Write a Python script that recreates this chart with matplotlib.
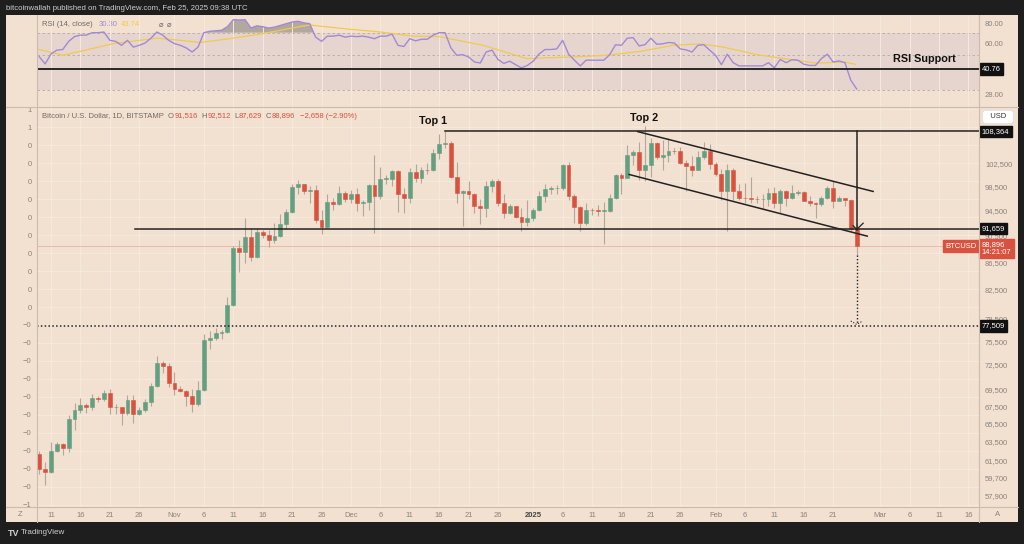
import numpy as np
import pandas as pd
import matplotlib
matplotlib.use('Agg')
from matplotlib import pyplot as plt
from matplotlib.lines import Line2D
from matplotlib.patches import Rectangle
from matplotlib.ticker import NullLocator, NullFormatter

plt.rcParams['font.family'] = ['Liberation Sans', 'DejaVu Sans']

# daily BTC/USD candles, Oct 9 2024 .. Feb 25 2025 (Bitstamp)
start_date = '2024-10-09'
opens = [62130, 60580, 60270, 62450, 63190, 62850, 66050, 67040, 67620, 67400, 68420, 68360, 69000, 67370, 67380, 66660, 68170, 66620, 67000, 67980, 69900, 72720, 72330,
         70250, 69500, 69300, 68740, 67800, 69370, 75600, 75900, 76530, 76680, 80400, 88700, 87950, 90400, 87300, 91050, 90600, 89850, 90500, 92300, 94300, 98400, 98950, 97700, 97900, 93000, 91950, 95950, 95650, 97450,
         96450, 97300, 95850, 96000, 98750, 97000, 99850, 99900, 101150, 97350, 96600, 101100, 100000, 101450, 101400, 104450, 106100, 106150, 100200, 97450, 97750, 97200, 95200, 94900, 98700, 99400, 95800, 94200, 95200, 93550, 92650,
         93400, 94550, 96900, 98150, 98250, 98350, 102250, 96950, 95050, 92500, 94700, 94550, 94500, 94500, 96550, 100500, 99980, 104080, 104560, 101330, 102260, 106150, 103650, 103960, 104800, 104700, 102600, 102050, 101300, 103700, 104700,
         102400, 100650, 97700, 101400, 97800, 96600, 96550, 96500, 96450, 96500, 97400, 95750, 97850, 96600, 97500, 97550, 96150, 95750, 95550, 96650, 98350, 96150, 96550, 96250, 91516]
highs = [62500, 61300, 63400, 63450, 63300, 66500, 67900, 68400, 67900, 68950, 68700, 69400, 69500, 67800, 67450, 68800, 68750, 67400, 68300, 70200, 73600, 72950, 72700,
         71600, 69900, 69400, 69500, 70500, 76400, 76800, 77200, 76900, 81400, 89000, 89900, 93400, 91700, 91800, 91400, 91500, 92500, 94000, 94800, 99000, 99600, 99000, 98600, 98800, 94700, 97200, 96600, 98700, 97800,
         98000, 98200, 96300, 99000, 104000, 101900, 100500, 101300, 101300, 98200, 101800, 102500, 101900, 102600, 105200, 107800, 108364, 106500, 102800, 98000, 99500, 97400, 96500, 99500, 99900, 99900, 97300, 95600, 95300, 94900, 96200,
         95000, 97800, 98900, 98700, 98800, 102500, 102700, 97300, 95300, 95800, 95000, 95400, 95900, 97300, 100700, 100800, 105800, 104900, 106300, 109350, 107200, 106400, 106800, 107100, 105300, 105500, 103200, 103800, 104800, 106400, 106000,
         102800, 101500, 102500, 101700, 99000, 99100, 100100, 96900, 97300, 98300, 98500, 98100, 98000, 98800, 97900, 97700, 97000, 96000, 96900, 98700, 99500, 96900, 96600, 96500, 92512]
lows = [60000, 58900, 60150, 62400, 62000, 62400, 64800, 66700, 66700, 67100, 68000, 68100, 66600, 66600, 65300, 66500, 65600, 66500, 66800, 67500, 69700, 71500, 69700,
        68800, 69100, 67500, 66800, 67500, 69300, 74500, 75600, 75800, 76500, 80200, 85100, 86300, 86700, 87100, 90100, 88800, 89400, 90400, 91600, 94200, 97300, 97200, 95800, 92600, 90800, 91700, 94700, 95400, 96000,
        95800, 94500, 93600, 94700, 91000, 96500, 99000, 98700, 94300, 94200, 95700, 99300, 99200, 100600, 101200, 103300, 105300, 100000, 95700, 92100, 96400, 94200, 92400, 93500, 97600, 95200, 93300, 94000, 93300, 91300, 92000,
        92800, 94400, 96000, 97300, 97300, 97900, 96200, 92500, 91200, 92200, 93800, 93700, 89250, 94300, 96500, 97300, 99950, 102300, 99600, 99500, 100100, 103400, 101300, 102800, 104200, 102500, 97800, 100300, 101300, 103400, 101600,
        100300, 96200, 91200, 96200, 96200, 95700, 95700, 95700, 94800, 95300, 94900, 94100, 95300, 96400, 97100, 96100, 95200, 93400, 95300, 96500, 94900, 96100, 95200, 91300, 87629]
closes = [60580, 60270, 62450, 63190, 62850, 66050, 67040, 67620, 67400, 68420, 68360, 69000, 67370, 67380, 66660, 68170, 66620, 67000, 67980, 69900, 72720, 72330, 70250,
          69500, 69300, 68740, 67800, 69370, 75600, 75900, 76530, 76680, 80400, 88700, 87950, 90400, 87300, 91050, 90600, 89850, 90500, 92300, 94300, 98400, 98950, 97700, 97900, 93000, 91950, 95950, 95650, 97450, 96450,
          97300, 95850, 96000, 98750, 97000, 99850, 99900, 101150, 97350, 96600, 101100, 100000, 101450, 101400, 104450, 106100, 106150, 100200, 97450, 97750, 97200, 95200, 94900, 98700, 99400, 95800, 94200, 95200, 93550, 92650, 93400,
          94550, 96900, 98150, 98250, 98350, 102250, 96950, 95050, 92500, 94700, 94550, 94500, 94500, 96550, 100500, 99980, 104080, 104560, 101330, 102260, 106150, 103650, 103960, 104800, 104700, 102600, 102050, 101300, 103700, 104700, 102400,
          100650, 97700, 101400, 97800, 96600, 96550, 96500, 96450, 96500, 97400, 95750, 97850, 96600, 97500, 97550, 96150, 95750, 95550, 96650, 98350, 96150, 96550, 96250, 91516, 88896]

# RSI(14) per candle
rsi = [49, 44, 51, 54, 54.5, 61.5, 66, 67.5, 67.5, 70, 70, 70.7, 62.5, 61.5, 58, 62.5, 56.5, 58, 60, 64.5, 70.7, 67.5, 62.5,
       59.5, 58, 55.8, 52.5, 56.5, 70, 71.5, 72, 72.5, 76.5, 85, 84.5, 85, 75, 77.5, 76.5, 75, 76, 78, 80, 82, 83, 81, 80, 65.5, 61.5, 66.5, 66.5, 67.5, 65.5,
       66.5, 66, 66.5, 65.5, 64, 66.5, 66.5, 68.5, 58, 57, 64, 62, 63.5, 63.5, 67.5, 70, 70, 55.8, 50, 50.5, 48.8, 45.3, 44.6, 52.5, 54, 47, 44.3, 45.8, 43.5, 41.5, 43,
       45.8, 51, 54.5, 54.5, 55, 62.5, 51, 46.5, 42.7, 46.5, 46.5, 46.5, 46.5, 50.5, 58.5, 58, 64.5, 65, 57.5, 58.5, 64.5, 59, 59.3, 60.5, 60, 55, 54.2, 52.5, 58, 58.5, 54,
       50, 43.5, 50.8, 44.8, 42.7, 42.7, 42.7, 42.7, 42.7, 44.8, 41.5, 47, 44.8, 46.8, 46.5, 43.8, 43, 43, 47.6, 50.8, 45.3, 46, 44.8, 34.5, 30.3]
# RSI moving average, read at a few points (candle index, value)
rsi_ma_k = [0, 4.1, 12.6, 20, 24, 27.3, 32.4, 38, 43.8, 46, 52.3, 58, 63.6, 68, 75.5, 82.9, 90.8, 96.5, 102.2, 107.8, 112.4, 116.3, 122, 127.7, 132.2, 136.8, 138.8]
rsi_ma = [54.5, 50, 59.5, 64.5, 62.5, 60.5, 64, 69, 76, 78.5, 74, 70.7, 66.5, 66, 58, 47.6, 48.8, 50, 53, 58, 59.3, 56.5, 50.5, 47, 44.5, 45.3, 43.74]

price_ticks = [102500, 98500, 94500, 90500, 86500, 82500, 78500, 75500, 72500, 69500, 67500, 65500, 63500, 61500, 59700, 57900]
rsi_ticks = [80, 60, 28]
left_labels = ['1', '1'] + ['0'] * 10 + ['\u22120'] * 10 + ['\u22121']

top_level = 108364
support_level = 91659
target_level = 77509
rsi_support = 40.76

BG = '#f2e0d0'
BAND = '#e6d5cf'
DARK = '#1e1e1e'
GREEN = '#62a081'
RED = '#d9523f'
WICK = '#b3a79c'
PURPLE = '#a08ad6'
YELLOW = '#f2c94e'
SEP = '#cdbcab'
GRID = '#f6e9de'
TXT = '#8a847e'
LEG = '#6f6a66'
FS = 5.5

W, H = 1024, 544
fig = plt.figure(figsize=(W / 100, H / 100), dpi=100, facecolor=DARK)


def fx(p):
    return p / W


def fy(p):
    return 1 - p / H


fig.add_artist(Rectangle((fx(6), fy(522)), fx(1018) - fx(6), fy(15) - fy(522),
                         transform=fig.transFigure, facecolor=BG, edgecolor='none', zorder=-10))

k = np.arange(len(closes))
o, h, l, c = map(np.array, (opens, highs, lows, closes))
xmin, xmax = -0.38, 159.8

# date ticks
dates = pd.date_range(start_date, periods=int(xmax) + 1)
tick_k, tick_lab = [], []
for i, d in enumerate(dates):
    if d.day == 1:
        tick_k.append(i)
        tick_lab.append('2025' if d.month == 1 else d.strftime('%b'))
    elif d.day in (6, 11, 16, 21, 26):
        if d.day == 26 and d.days_in_month < 30:
            continue
        tick_k.append(i)
        tick_lab.append(str(d.day))

rect_p = [fx(37), fy(507), (979 - 37) / W, (507 - 107) / H]
rect_r = [fx(37), fy(107), (979 - 37) / W, (107 - 15) / H]

# grid / left scale axes
ax_g = fig.add_axes(rect_p, zorder=0)
ax_g.patch.set_visible(False)
ax_g.set_xlim(xmin, xmax)
ax_g.set_ylim(-0.5556, 0.5556)
ax_g.set_yticks([0.55 - 0.05 * i for i in range(len(left_labels))])
ax_g.set_yticklabels(left_labels)
ax_g.set_xticks(tick_k)
ax_g.tick_params(axis='y', length=0, pad=4, labelsize=FS, labelcolor=TXT)
ax_g.tick_params(axis='x', length=0, labelbottom=False)
ax_g.grid(True, color=GRID, lw=0.7)
for s in ax_g.spines.values():
    s.set_visible(False)

# price pane
ax_p = fig.add_axes(rect_p, zorder=1)
ax_p.patch.set_visible(False)
ax_p.set_yscale('log')
ax_p.set_xlim(xmin, xmax)
ax_p.set_ylim(56730, 113000)
for s in ax_p.spines.values():
    s.set_visible(False)

ax_p.axhline(closes[-1], color='#eab3a4', lw=0.6, zorder=1)
ax_p.vlines(k, l, h, color=WICK, lw=0.8, zorder=2)
body_col = np.where(c >= o, GREEN, RED)
ax_p.bar(k, np.maximum(np.abs(c - o), 60), bottom=np.minimum(o, c), width=0.66,
         color=body_col, edgecolor=body_col, lw=0.4, zorder=3)

# drawings
ax_p.plot([69, xmax], [top_level, top_level], color='#222222', lw=1.1, zorder=4)
ax_p.plot([16.3, xmax], [support_level, support_level], color='#222222', lw=1.1, zorder=4)
ax_p.plot([xmin, xmax], [target_level, target_level], color='#222222', lw=1.1, ls=(0, (1, 1.5)), zorder=4)
ax_p.plot([101.8, 141.8], [108300, 97700], color='#222222', lw=1.1, zorder=4)
ax_p.plot([100.3, 140.8], [100600, 90460], color='#222222', lw=1.1, zorder=4)
ax_p.plot([139, 139], [top_level, 91500], color='#222222', lw=1.1, zorder=4)
ax_p.plot([138.4, 139, 140.1], [92100, 91500, 92500], color='#222222', lw=0.9, zorder=4)
ax_p.plot([139, 139], [87600, 77700], color='#222222', lw=1.0, ls=(0, (1, 1.5)), zorder=4)
ax_p.plot([138, 139, 140], [78150, 77700, 78150], color='#222222', lw=0.8, ls=(0, (1, 1.5)), zorder=4)

ax_p.yaxis.tick_right()
ax_p.set_yticks(price_ticks)
ax_p.set_yticklabels([f'{v:,}' for v in price_ticks])
ax_p.yaxis.set_minor_locator(NullLocator())
ax_p.yaxis.set_minor_formatter(NullFormatter())
ax_p.tick_params(axis='y', length=0, pad=4.3, labelsize=FS, labelcolor=TXT)
ax_p.set_xticks(tick_k)
ax_p.set_xticklabels(tick_lab)
ax_p.tick_params(axis='x', length=0, pad=3.4, labelsize=FS, labelcolor=TXT)
for lab in ax_p.get_xticklabels():
    if lab.get_text() == '2025':
        lab.set_fontweight('bold')
        lab.set_color('#444444')


def axis_box(ax, y, text, fc, tc='white'):
    ax.text(1.003, y, text, transform=ax.get_yaxis_transform(), ha='left', va='center',
            fontsize=FS, color=tc, clip_on=False, zorder=6,
            bbox=dict(boxstyle='square,pad=0.3', fc=fc, ec=fc))


axis_box(ax_p, top_level, f'{top_level:,}', '#111111')
axis_box(ax_p, support_level, f'{support_level:,}', '#111111')
axis_box(ax_p, target_level, f'{target_level:,}', '#111111')
ax_p.annotate('88,896\n14:21:07', xy=(1, closes[-1]), xycoords=('axes fraction', 'data'),
              xytext=(2, 3.5), textcoords='offset points', ha='left', va='top', fontsize=FS,
              color='white', linespacing=1.1, annotation_clip=False, zorder=6,
              bbox=dict(boxstyle='square,pad=0.3', fc=RED, ec=RED))
ax_p.annotate('BTCUSD', xy=(1, closes[-1]), xycoords=('axes fraction', 'data'),
              xytext=(-2, 0), textcoords='offset points', ha='right', va='center', fontsize=FS,
              color='white', annotation_clip=False, zorder=6,
              bbox=dict(boxstyle='square,pad=0.3', fc=RED, ec=RED))

# RSI pane
ax_r = fig.add_axes(rect_r, zorder=1)
ax_r.patch.set_visible(False)
ax_r.set_yscale('log')
ax_r.set_xlim(xmin, xmax)
ax_r.set_ylim(23.17, 91.07)
for s in ax_r.spines.values():
    s.set_visible(False)
ax_r.axhspan(30, 70, color=BAND, lw=0, zorder=0.5)
ax_r.set_xticks(tick_k)
ax_r.grid(True, axis='x', color=GRID, lw=0.7)
ax_r.tick_params(axis='x', length=0, labelbottom=False)
for lvl in (70, 50, 30):
    ax_r.axhline(lvl, color='#b9a99b', lw=0.6, ls=(0, (3, 3)), zorder=1)
r = np.array(rsi)
ax_r.fill_between(k, 70, r, where=r > 70, interpolate=True, color='#a49b94', alpha=0.8, lw=0, zorder=1.5)
ax_r.plot(rsi_ma_k, rsi_ma, color=YELLOW, lw=0.9, zorder=2)
ax_r.plot(k, r, color=PURPLE, lw=1.0, zorder=3)
ax_r.axhline(rsi_support, color='#1a1a1a', lw=1.3, zorder=4)
ax_r.yaxis.tick_right()
ax_r.set_yticks(rsi_ticks)
ax_r.set_yticklabels([f'{v:.2f}' for v in rsi_ticks])
ax_r.yaxis.set_minor_locator(NullLocator())
ax_r.yaxis.set_minor_formatter(NullFormatter())
ax_r.tick_params(axis='y', length=0, pad=4.3, labelsize=FS, labelcolor=TXT)
axis_box(ax_r, rsi_support, f'{rsi_support:.2f}', '#111111')

# pane separators
for xs, ys in [((6, 1018), (107, 107)), ((6, 1018), (507, 507)), ((37, 37), (15, 522)), ((979, 979), (15, 522))]:
    fig.add_artist(Line2D([fx(xs[0]), fx(xs[1])], [fy(ys[0]), fy(ys[1])], color=SEP, lw=0.8))


def text_row(x, y, pieces, size=FS):
    # pieces: (text, colour, gap in points before it)
    prev = fig.text(fx(x), fy(y), pieces[0][0], color=pieces[0][1], fontsize=size, va='center')
    for s, col, gap in pieces[1:]:
        prev = ax_p.annotate(s, xy=(1, 0.5), xycoords=prev, xytext=(gap, 0),
                             textcoords='offset points', ha='left', va='center',
                             color=col, fontsize=size, annotation_clip=False)


# texts
fig.text(fx(6), fy(8), 'bitcoinwallah published on TradingView.com, Feb 25, 2025 09:38 UTC',
         color='#cfcfcf', fontsize=5.6, va='center')
text_row(42, 25, [('RSI (14, close)', LEG, 0), ('30.30', PURPLE, 4), ('43.74', YELLOW, 3),
                  ('\u2300', LEG, 13), ('\u2300', LEG, 3)])
text_row(42, 116, [('Bitcoin / U.S. Dollar, 1D, BITSTAMP', LEG, 0),
                   ('O', LEG, 3), ('91,516', RED, 0.3),
                   ('H', LEG, 2.5), ('92,512', RED, 0.3),
                   ('L', LEG, 2.5), ('87,629', RED, 0.3),
                   ('C', LEG, 2.5), ('88,896', RED, 0.3),
                   ('\u22122,658 (\u22122.90%)', RED, 3.5)])

fig.text(fx(433), fy(121), 'Top 1', color='#111111', fontsize=7.8, fontweight='bold', ha='center', va='center')
fig.text(fx(644), fy(118), 'Top 2', color='#111111', fontsize=7.8, fontweight='bold', ha='center', va='center')
fig.text(fx(924), fy(59), 'RSI Support', color='#111111', fontsize=7.8, fontweight='bold', ha='center', va='center')

fig.text(fx(998), fy(117), '  USD  ', color='#333333', fontsize=FS, ha='center', va='center',
         bbox=dict(boxstyle='round,pad=0.4', fc='white', ec='#dddddd', lw=0.5))
fig.text(fx(20), fy(515), 'Z', color=TXT, fontsize=FS, ha='center', va='center')
fig.text(fx(998), fy(515), 'A', color=TXT, fontsize=FS, ha='center', va='center')
fig.text(fx(8), fy(533), 'TV', color='#d0d0d0', fontsize=6.5, fontweight='bold', va='center')
fig.text(fx(21), fy(533), 'TradingView', color='#cfcfcf', fontsize=5.8, va='center')

fig.savefig('out.png', dpi=100, facecolor=DARK)
plt.close(fig)
